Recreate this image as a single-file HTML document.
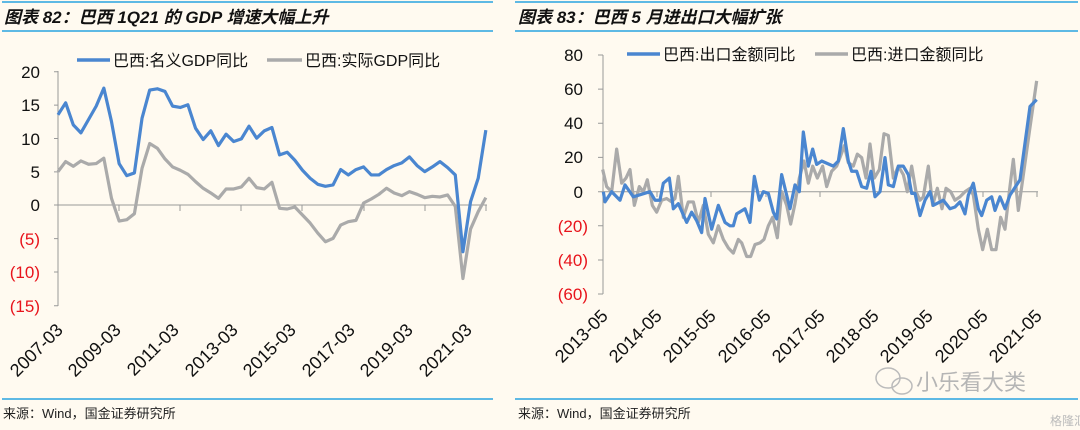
<!DOCTYPE html>
<html><head><meta charset="utf-8"><style>
html,body{margin:0;padding:0;background:#fffaf0;}
svg{display:block;font-family:"Liberation Sans","Noto Sans CJK SC",sans-serif;}
</style></head><body>
<svg width="1080" height="430" viewBox="0 0 1080 430" xmlns="http://www.w3.org/2000/svg">
<rect width="1080" height="430" fill="#fffaf0"/>
<g stroke="#29a3e0" stroke-width="1.5">
<line x1="2" y1="2" x2="493" y2="2"/><line x1="2" y1="31" x2="493" y2="31"/><line x1="2" y1="399" x2="493" y2="399"/>
<line x1="515" y1="2" x2="1078" y2="2"/><line x1="515" y1="31" x2="1078" y2="31"/><line x1="515" y1="399" x2="1078" y2="399"/>
</g>
<g font-size="17" font-weight="bold" font-style="italic" fill="#111">
<text x="4" y="23">图表 82：巴西 1Q21 的 GDP 增速大幅上升</text>
<text x="518" y="23">图表 83：巴西 5 月进出口大幅扩张</text>
</g>
<g font-size="13" fill="#222">
<text x="3" y="418">来源：Wind，国金证券研究所</text>
<text x="518" y="418">来源：Wind，国金证券研究所</text>
</g>
<!-- LEFT CHART -->
<g stroke="#999" stroke-width="1" fill="none">
<line x1="58" y1="71" x2="58" y2="306"/>
<line x1="58" y1="205" x2="487" y2="205"/>
<path d="M54 71.7H58M54 105.1H58M54 138.5H58M54 171.9H58M54 205H58M54 238.6H58M54 272H58M54 305.7H58"/>
<path d="M119 205V211M180 205V211M241 205V211M302 205V211M364 205V211M425 205V211M486 205V211"/>
</g>
<g font-size="17" text-anchor="end" fill="#111">
<text x="40" y="78">20</text><text x="40" y="111">15</text><text x="40" y="145">10</text><text x="40" y="178">5</text><text x="40" y="211">0</text>
<text x="40" y="245" fill="#e8141c">(5)</text><text x="40" y="278" fill="#e8141c">(10)</text><text x="40" y="312" fill="#e8141c">(15)</text>
</g>
<g font-size="18" fill="#111" text-anchor="end">
<text transform="translate(64,331) rotate(-45)">2007-03</text>
<text transform="translate(122,331) rotate(-45)">2009-03</text>
<text transform="translate(180,331) rotate(-45)">2011-03</text>
<text transform="translate(239,331) rotate(-45)">2013-03</text>
<text transform="translate(297,331) rotate(-45)">2015-03</text>
<text transform="translate(356,331) rotate(-45)">2017-03</text>
<text transform="translate(414,331) rotate(-45)">2019-03</text>
<text transform="translate(473,331) rotate(-45)">2021-03</text>
</g>
<g transform="translate(58,205) scale(7.64,-6.68)" fill="none" stroke-linejoin="round">
<polyline vector-effect="non-scaling-stroke" stroke="#aaaaaa" stroke-width="3.2" points="0,5 1,6.5 2,5.8 3,6.6 4,6.1 5,6.2 6,7 7,1 8,-2.4 9,-2.2 10,-1.3 11,5.5 12,9.2 13,8.5 14,6.9 15,5.7 16,5.2 17,4.6 18,3.5 19,2.5 20,1.8 21,1 22,2.4 23,2.4 24,2.7 25,4 26,2.6 27,2.4 28,3.4 29,-0.5 30,-0.6 31,-0.3 32,-1.5 33,-2.7 34,-4.2 35,-5.5 36,-5 37,-3 38,-2.5 39,-2.3 40,0.3 41,0.9 42,1.6 43,2.5 44,1.8 45,1.4 46,2 47,1.6 48,1.1 49,1.3 50,1.2 51,1.5 52,-0.2 53,-11 54,-3.6 55,-1 56,1.1"/>
<polyline vector-effect="non-scaling-stroke" stroke="#4a86d0" stroke-width="3.2" points="0,13.5 1,15.3 2,12 3,10.8 4,12.8 5,14.8 6,17.5 7,12.5 8,6.2 9,4.4 10,4.8 11,13 12,17.2 13,17.4 14,17 15,14.8 16,14.6 17,15 18,11.5 19,9.8 20,11.1 21,8.9 22,10.6 23,9.5 24,9.9 25,11.8 26,10 27,11.1 28,11.6 29,7.5 30,7.9 31,6.7 32,5.2 33,4 34,3.1 35,2.8 36,3 37,5.3 38,4.5 39,5.3 40,5.7 41,4.5 42,4.5 43,5.3 44,5.9 45,6.3 46,7.2 47,5.9 48,5 49,5.7 50,6.5 51,5.6 52,4.5 53,-7 54,0.5 55,4 56,11.2"/>
</g>
<line x1="77" y1="60" x2="110" y2="60" stroke="#4a86d0" stroke-width="3.5"/>
<text x="113" y="66" font-size="16" fill="#111">巴西:名义GDP同比</text>
<line x1="267" y1="60" x2="302" y2="60" stroke="#aaaaaa" stroke-width="3.5"/>
<text x="305" y="66" font-size="16" fill="#111">巴西:实际GDP同比</text>
<!-- RIGHT CHART -->
<g stroke="#999" stroke-width="1" fill="none">
<line x1="603" y1="55" x2="603" y2="294"/>
<line x1="603" y1="191.7" x2="1038" y2="191.7"/>
<path d="M598 55H603M598 89.1H603M598 123.2H603M598 157.4H603M598 191.7H603M598 225.8H603M598 260H603M598 294H603"/>
<path d="M657 191.7V197M711 191.7V197M766 191.7V197M820 191.7V197M874 191.7V197M928 191.7V197M983 191.7V197M1037 191.7V197"/>
</g>
<g font-size="17" text-anchor="end" fill="#111">
<text x="583" y="61">80</text><text x="583" y="95">60</text><text x="583" y="129">40</text><text x="583" y="163">20</text><text x="583" y="198">0</text>
<text x="588" y="232" fill="#e8141c">(20)</text><text x="588" y="266" fill="#e8141c">(40)</text><text x="588" y="300" fill="#e8141c">(60)</text>
</g>
<g font-size="18" fill="#111" text-anchor="end">
<text transform="translate(609,317) rotate(-45)">2013-05</text>
<text transform="translate(663,317) rotate(-45)">2014-05</text>
<text transform="translate(717,317) rotate(-45)">2015-05</text>
<text transform="translate(772,317) rotate(-45)">2016-05</text>
<text transform="translate(826,317) rotate(-45)">2017-05</text>
<text transform="translate(880,317) rotate(-45)">2018-05</text>
<text transform="translate(934,317) rotate(-45)">2019-05</text>
<text transform="translate(989,317) rotate(-45)">2020-05</text>
<text transform="translate(1043,317) rotate(-45)">2021-05</text>
</g>
<g transform="translate(540,191.7) scale(0.33333,-1.705)" fill="none" stroke-linejoin="round">
<polyline vector-effect="non-scaling-stroke" stroke="#aaaaaa" stroke-width="3.2" points="188,13 200,3 215,0 230,25 245,5 258,8 270,13 283,-8 298,3 310,0 322,7 337,-8 350,-12 365,-5 380,-4 395,-6 405,-4 415,9 430,-15 445,-6 460,-6 475,-18 490,-8 505,-25 520,-30 535,-20 550,-28 565,-33 580,-36 595,-28 605,-30 620,-38 632,-38 645,-31 660,-30 672,-28 685,-20 698,-15 712,-27 725,0 740,-8 752,-19 765,-7 778,8 792,18 805,5 818,15 832,8 848,15 860,3 875,12 890,15 900,20 913,27 925,17 940,15 952,22 965,20 978,8 990,28 1003,8 1018,13 1032,34 1045,33 1060,8 1075,15 1090,10 1102,0 1115,15 1128,0 1140,-5 1150,-3 1165,15 1178,-8 1192,2 1206,-10 1218,2 1232,0 1245,-5 1260,-3 1275,0 1290,2 1300,-2 1315,-22 1328,-34 1342,-22 1355,-34 1368,-34 1382,-15 1395,-22 1408,0 1420,19 1435,-11 1448,7 1468,35 1490,65"/>
<polyline vector-effect="non-scaling-stroke" stroke="#4a86d0" stroke-width="3.2" points="190,0 195,-6 215,0 240,-5 255,4 280,-3 330,0 345,-5 360,-5 370,5 388,8 400,-10 415,-7 440,-18 455,-12 470,-17 485,-24 495,-4 515,-22 535,-8 555,-18 570,-20 580,-20 590,-13 615,-10 630,-18 643,9 658,-5 670,0 685,-1 700,-12 710,-16 725,10 750,-10 765,4 778,0 790,35 805,15 818,25 830,16 845,18 880,15 895,18 910,37 925,18 935,12 950,12 965,3 980,2 993,12 1005,-3 1020,0 1035,20 1045,4 1060,3 1075,15 1090,15 1105,10 1115,-1 1125,-1 1140,-14 1155,-5 1170,0 1180,-8 1210,-5 1230,-10 1245,-9 1260,-6 1275,-13 1285,-2 1300,5 1315,-10 1325,-14 1340,-5 1355,-3 1365,-11 1380,-3 1395,-10 1410,-2 1440,7 1470,50 1490,54"/>
</g>
<line x1="627" y1="54" x2="660" y2="54" stroke="#4a86d0" stroke-width="3.5"/>
<text x="663" y="60" font-size="16" fill="#111">巴西:出口金额同比</text>
<line x1="815" y1="54" x2="848" y2="54" stroke="#aaaaaa" stroke-width="3.5"/>
<text x="851" y="60" font-size="16" fill="#111">巴西:进口金额同比</text>
<!-- watermark -->
<g fill="none" stroke="#bbb" stroke-width="1.5"><ellipse cx="888" cy="378" rx="12" ry="10"/><ellipse cx="902" cy="386" rx="10" ry="8"/></g>
<text x="916" y="390" font-size="22" fill="#b5b5b5">小乐看大类</text>
<text x="1050" y="425" font-size="12" fill="#bbb">格隆汇</text>
</svg>
</body></html>
